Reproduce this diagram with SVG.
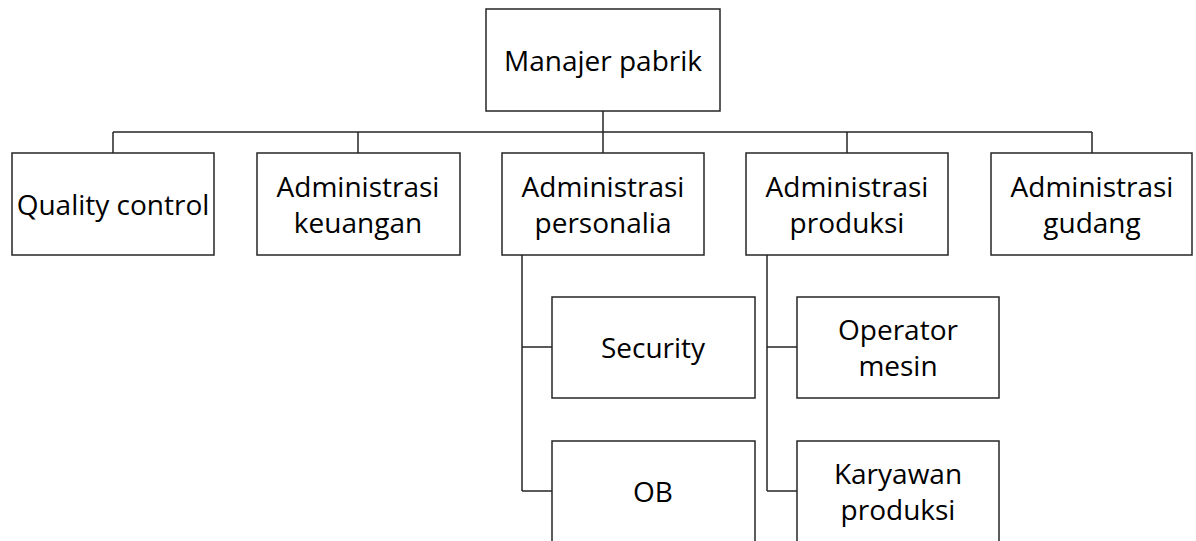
<svg xmlns="http://www.w3.org/2000/svg" width="1196" height="541" viewBox="0 0 1196 541">
<style>
.box{fill:#fff;stroke:#262626;stroke-width:1.5}
.ln{fill:none;stroke:#262626;stroke-width:1.5}
text{font-family:"Open Sans","Liberation Sans",sans-serif;font-size:28px;fill:#000;text-anchor:middle}
</style>
<rect width="1196" height="541" fill="#fff"/>
<g id="connectors">
<path class="ln" d="M603 111V153M113 132H1092M113 132V153M358 132V153M847 132V153M1092 132V153"/>
<path class="ln" d="M522 255V491M522 347H552M522 491H552"/>
<path class="ln" d="M767 255V491M767 347H797M767 491H797"/>
</g>
<g id="manajer"><rect class="box" x="486" y="9" width="234" height="102"/><text x="603" y="71">Manajer pabrik</text></g>
<g id="qc"><rect class="box" x="12" y="153" width="202" height="102"/><text x="113" y="215">Quality control</text></g>
<g id="keuangan"><rect class="box" x="257" y="153" width="203" height="102"/><text x="358" y="197">Administrasi</text><text x="358" y="233">keuangan</text></g>
<g id="personalia"><rect class="box" x="502" y="153" width="202" height="102"/><text x="603" y="197">Administrasi</text><text x="603" y="233">personalia</text></g>
<g id="produksi"><rect class="box" x="746" y="153" width="202" height="102"/><text x="847" y="197">Administrasi</text><text x="847" y="233">produksi</text></g>
<g id="gudang"><rect class="box" x="991" y="153" width="201" height="102"/><text x="1092" y="197">Administrasi</text><text x="1092" y="233">gudang</text></g>
<g id="security"><rect class="box" x="552" y="297" width="203" height="101"/><text x="653" y="358">Security</text></g>
<g id="ob"><rect class="box" x="552" y="441" width="203" height="102"/><text x="653" y="502">OB</text></g>
<g id="operator"><rect class="box" x="797" y="297" width="202" height="101"/><text x="898" y="340">Operator</text><text x="898" y="376">mesin</text></g>
<g id="karyawan"><rect class="box" x="797" y="441" width="202" height="102"/><text x="898" y="484">Karyawan</text><text x="898" y="520">produksi</text></g>
</svg>
